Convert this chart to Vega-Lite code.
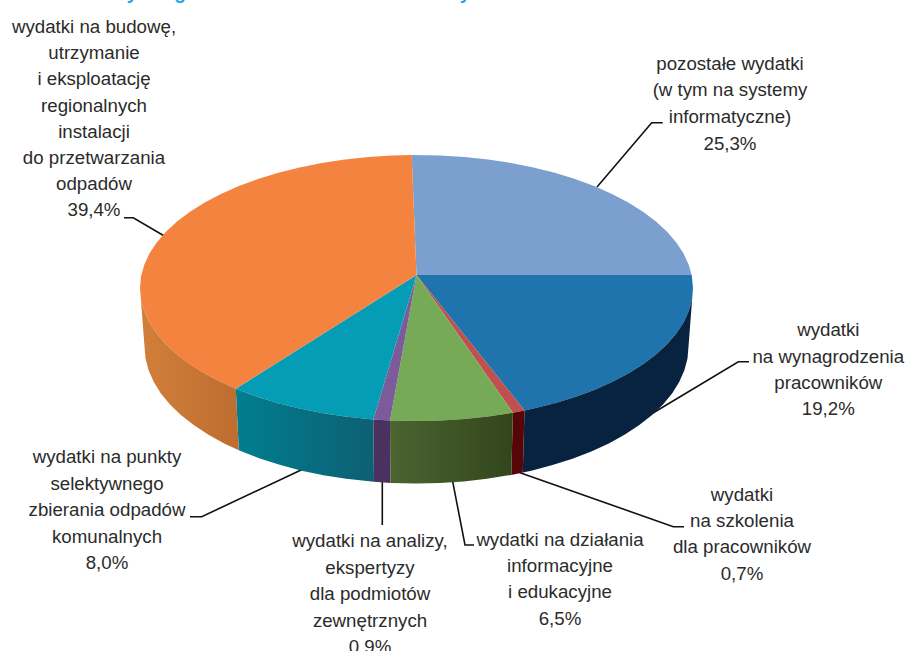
{
"$schema":"https://vega.github.io/schema/vega-lite/v6.json",
"width":906,"height":651,"padding":0,"autosize":{"type":"none"},"background":"white",
"config":{"view":{"stroke":null}},
"datasets":{
"shapes":[
{"i":1,"part":"pozostałe","x":416.5,"y":275},{"i":2,"part":"pozostałe","x":411.7,"y":155},{"i":3,"part":"pozostałe","x":464.5,"y":157},{"i":4,"part":"pozostałe","x":511.1,"y":163},{"i":5,"part":"pozostałe","x":554.8,"y":172.8},{"i":6,"part":"pozostałe","x":594.2,"y":186.1},{"i":7,"part":"pozostałe","x":628.3,"y":202.5},{"i":8,"part":"pozostałe","x":656,"y":221.5},{"i":9,"part":"pozostałe","x":676.3,"y":242.5},{"i":10,"part":"pozostałe","x":688.8,"y":264.9},{"i":11,"part":"pozostałe","x":691.7,"y":275},
{"i":2.5,"part":"pozostałe","x":440.6,"y":155.5},{"i":3.5,"part":"pozostałe","x":488.1,"y":159.5},{"i":4.5,"part":"pozostałe","x":533.4,"y":167.5},{"i":5.5,"part":"pozostałe","x":575.1,"y":179},{"i":6.5,"part":"pozostałe","x":612,"y":194},{"i":7.5,"part":"pozostałe","x":643,"y":211.7},{"i":8.5,"part":"pozostałe","x":667.1,"y":231.8},{"i":9.5,"part":"pozostałe","x":683.6,"y":253.6},
{"i":1,"part":"wynagrodzenia","x":416.5,"y":275},{"i":2,"part":"wynagrodzenia","x":691.7,"y":275},{"i":3,"part":"wynagrodzenia","x":693,"y":288},{"i":4,"part":"wynagrodzenia","x":688.8,"y":311.1},{"i":5,"part":"wynagrodzenia","x":676.3,"y":333.5},{"i":6,"part":"wynagrodzenia","x":656,"y":354.5},{"i":7,"part":"wynagrodzenia","x":628.3,"y":373.5},{"i":8,"part":"wynagrodzenia","x":594.2,"y":389.9},{"i":9,"part":"wynagrodzenia","x":554.8,"y":403.2},{"i":10,"part":"wynagrodzenia","x":524.5,"y":410.4},
{"i":3.5,"part":"wynagrodzenia","x":692,"y":299.6},{"i":4.5,"part":"wynagrodzenia","x":683.6,"y":322.4},{"i":5.5,"part":"wynagrodzenia","x":667.1,"y":344.2},{"i":6.5,"part":"wynagrodzenia","x":643,"y":364.3},{"i":7.5,"part":"wynagrodzenia","x":612,"y":382},{"i":8.5,"part":"wynagrodzenia","x":575.1,"y":397},{"i":9.5,"part":"wynagrodzenia","x":533.4,"y":408.5},
{"i":1,"part":"szkolenia","x":416.5,"y":275},{"i":2,"part":"szkolenia","x":524.5,"y":410.4},{"i":3,"part":"szkolenia","x":512.9,"y":412.7},
{"i":1,"part":"działania","x":416.5,"y":275},{"i":2,"part":"działania","x":512.9,"y":412.7},{"i":3,"part":"działania","x":488.1,"y":416.5},{"i":4,"part":"działania","x":464.5,"y":419},{"i":5,"part":"działania","x":440.6,"y":420.5},{"i":6,"part":"działania","x":416.5,"y":421},{"i":7,"part":"działania","x":390,"y":420.4},
{"i":1,"part":"analizy","x":416.5,"y":275},{"i":2,"part":"analizy","x":390,"y":420.4},{"i":3,"part":"analizy","x":373.3,"y":419.4},
{"i":1,"part":"punkty","x":416.5,"y":275},{"i":2,"part":"punkty","x":373.3,"y":419.4},{"i":3,"part":"punkty","x":344.9,"y":416.5},{"i":4,"part":"punkty","x":321.9,"y":413},{"i":5,"part":"punkty","x":278.3,"y":403.2},{"i":6,"part":"punkty","x":235.8,"y":388.7},
{"i":4.5,"part":"punkty","x":299.6,"y":408.5},{"i":5.5,"part":"punkty","x":257.9,"y":397},
{"i":1,"part":"instalacje","x":416.5,"y":275},{"i":2,"part":"instalacje","x":235.8,"y":388.7},{"i":3,"part":"instalacje","x":204.7,"y":373.5},{"i":4,"part":"instalacje","x":177,"y":354.5},{"i":5,"part":"instalacje","x":156.7,"y":333.5},{"i":6,"part":"instalacje","x":144.2,"y":311.1},{"i":7,"part":"instalacje","x":140,"y":288},{"i":8,"part":"instalacje","x":144.2,"y":264.9},{"i":9,"part":"instalacje","x":156.7,"y":242.5},{"i":10,"part":"instalacje","x":177,"y":221.5},{"i":11,"part":"instalacje","x":204.7,"y":202.5},{"i":12,"part":"instalacje","x":238.8,"y":186.1},{"i":13,"part":"instalacje","x":278.3,"y":172.8},{"i":14,"part":"instalacje","x":321.9,"y":163},{"i":15,"part":"instalacje","x":368.5,"y":157},{"i":16,"part":"instalacje","x":411.7,"y":155},
{"i":2.5,"part":"instalacje","x":221,"y":382},{"i":3.5,"part":"instalacje","x":190,"y":364.3},{"i":4.5,"part":"instalacje","x":165.9,"y":344.2},{"i":5.5,"part":"instalacje","x":149.4,"y":322.4},{"i":6.5,"part":"instalacje","x":141,"y":299.6},{"i":7.5,"part":"instalacje","x":141,"y":276.4},{"i":8.5,"part":"instalacje","x":149.4,"y":253.6},{"i":9.5,"part":"instalacje","x":165.9,"y":231.8},{"i":10.5,"part":"instalacje","x":190,"y":211.7},{"i":11.5,"part":"instalacje","x":221,"y":194},{"i":12.5,"part":"instalacje","x":257.9,"y":179},{"i":13.5,"part":"instalacje","x":299.6,"y":167.5},{"i":14.5,"part":"instalacje","x":344.9,"y":159.5},{"i":15.5,"part":"instalacje","x":392.4,"y":155.5},
{"i":1,"part":"bok wynagrodzenia","x":693,"y":288},{"i":2,"part":"bok wynagrodzenia","x":688.8,"y":311.1},{"i":3,"part":"bok wynagrodzenia","x":676.3,"y":333.5},{"i":4,"part":"bok wynagrodzenia","x":656,"y":354.5},{"i":5,"part":"bok wynagrodzenia","x":628.3,"y":373.5},{"i":6,"part":"bok wynagrodzenia","x":594.2,"y":389.9},{"i":7,"part":"bok wynagrodzenia","x":554.8,"y":403.2},{"i":8,"part":"bok wynagrodzenia","x":524.5,"y":410.4},{"i":9,"part":"bok wynagrodzenia","x":522.8,"y":472.6},{"i":10,"part":"bok wynagrodzenia","x":552.5,"y":465.1},{"i":11,"part":"bok wynagrodzenia","x":591.3,"y":451.4},{"i":12,"part":"bok wynagrodzenia","x":624.9,"y":434.6},{"i":13,"part":"bok wynagrodzenia","x":652.1,"y":415},{"i":14,"part":"bok wynagrodzenia","x":672.1,"y":393.4},{"i":15,"part":"bok wynagrodzenia","x":684.4,"y":370.3},{"i":16,"part":"bok wynagrodzenia","x":688.5,"y":346.5},
{"i":1.5,"part":"bok wynagrodzenia","x":692,"y":299.6},{"i":2.5,"part":"bok wynagrodzenia","x":683.6,"y":322.4},{"i":3.5,"part":"bok wynagrodzenia","x":667.1,"y":344.2},{"i":4.5,"part":"bok wynagrodzenia","x":643,"y":364.3},{"i":5.5,"part":"bok wynagrodzenia","x":612,"y":382},{"i":6.5,"part":"bok wynagrodzenia","x":575.1,"y":397},{"i":7.5,"part":"bok wynagrodzenia","x":533.4,"y":408.5},
{"i":9.5,"part":"bok wynagrodzenia","x":531.4,"y":470.7},{"i":10.5,"part":"bok wynagrodzenia","x":572.5,"y":458.7},{"i":11.5,"part":"bok wynagrodzenia","x":608.8,"y":443.4},{"i":12.5,"part":"bok wynagrodzenia","x":639.3,"y":425.1},{"i":13.5,"part":"bok wynagrodzenia","x":663,"y":404.4},{"i":14.5,"part":"bok wynagrodzenia","x":679.2,"y":382},{"i":15.5,"part":"bok wynagrodzenia","x":687.5,"y":358.4},
{"i":1,"part":"bok szkolenia","x":524.5,"y":410.4},{"i":2,"part":"bok szkolenia","x":512.9,"y":412.7},{"i":3,"part":"bok szkolenia","x":511.3,"y":474.9},{"i":4,"part":"bok szkolenia","x":522.8,"y":472.6},
{"i":1,"part":"bok analizy","x":390,"y":420.4},{"i":2,"part":"bok analizy","x":373.3,"y":419.4},{"i":3,"part":"bok analizy","x":374,"y":481.8},{"i":4,"part":"bok analizy","x":390.4,"y":482.9},
{"i":1,"part":"bok działania","x":512.9,"y":412.7},{"i":2,"part":"bok działania","x":488.1,"y":416.5},{"i":3,"part":"bok działania","x":464.5,"y":419},{"i":4,"part":"bok działania","x":440.6,"y":420.5},{"i":5,"part":"bok działania","x":416.5,"y":421},{"i":6,"part":"bok działania","x":390,"y":420.4},{"i":7,"part":"bok działania","x":390.4,"y":482.9},{"i":8,"part":"bok działania","x":416.5,"y":483.5},{"i":9,"part":"bok działania","x":440.2,"y":483},{"i":10,"part":"bok działania","x":463.7,"y":481.4},{"i":11,"part":"bok działania","x":486.9,"y":478.8},{"i":12,"part":"bok działania","x":511.3,"y":474.9},
{"i":1,"part":"bok punkty","x":373.3,"y":419.4},{"i":2,"part":"bok punkty","x":344.9,"y":416.5},{"i":3,"part":"bok punkty","x":321.9,"y":413},{"i":4,"part":"bok punkty","x":278.3,"y":403.2},{"i":5,"part":"bok punkty","x":235.8,"y":388.7},{"i":6,"part":"bok punkty","x":238.8,"y":450.2},{"i":7,"part":"bok punkty","x":280.5,"y":465.1},{"i":8,"part":"bok punkty","x":323.5,"y":475.2},{"i":9,"part":"bok punkty","x":346.1,"y":478.8},{"i":10,"part":"bok punkty","x":374,"y":481.8},
{"i":3.5,"part":"bok punkty","x":299.6,"y":408.5},{"i":4.5,"part":"bok punkty","x":257.9,"y":397},{"i":6.5,"part":"bok punkty","x":260.5,"y":458.7},{"i":7.5,"part":"bok punkty","x":301.6,"y":470.7},
{"i":1,"part":"bok instalacje","x":235.8,"y":388.7},{"i":2,"part":"bok instalacje","x":204.7,"y":373.5},{"i":3,"part":"bok instalacje","x":177,"y":354.5},{"i":4,"part":"bok instalacje","x":156.7,"y":333.5},{"i":5,"part":"bok instalacje","x":144.2,"y":311.1},{"i":6,"part":"bok instalacje","x":140,"y":288},{"i":7,"part":"bok instalacje","x":144.5,"y":346.5},{"i":8,"part":"bok instalacje","x":148.6,"y":370.3},{"i":9,"part":"bok instalacje","x":160.9,"y":393.4},{"i":10,"part":"bok instalacje","x":180.9,"y":415},{"i":11,"part":"bok instalacje","x":208.1,"y":434.6},{"i":12,"part":"bok instalacje","x":238.8,"y":450.2},
{"i":1.5,"part":"bok instalacje","x":221,"y":382},{"i":2.5,"part":"bok instalacje","x":190,"y":364.3},{"i":3.5,"part":"bok instalacje","x":165.9,"y":344.2},{"i":4.5,"part":"bok instalacje","x":149.4,"y":322.4},{"i":5.5,"part":"bok instalacje","x":141,"y":299.6},{"i":7.5,"part":"bok instalacje","x":145.5,"y":358.4},{"i":8.5,"part":"bok instalacje","x":153.8,"y":382},{"i":9.5,"part":"bok instalacje","x":170,"y":404.4},{"i":10.5,"part":"bok instalacje","x":193.7,"y":425.1},{"i":11.5,"part":"bok instalacje","x":224.2,"y":443.4}
],
"leaders":[
{"i":1,"id":"a","x":124,"y":217.7},{"i":2,"id":"a","x":133.3,"y":217.7},{"i":3,"id":"a","x":164.3,"y":236},
{"i":1,"id":"b","x":597,"y":187},{"i":2,"id":"b","x":651.7,"y":122.7},{"i":3,"id":"b","x":662.7,"y":122.7},
{"i":1,"id":"c","x":653,"y":413},{"i":2,"id":"c","x":738.3,"y":361.7},{"i":3,"id":"c","x":749,"y":361.7},
{"i":1,"id":"d","x":518,"y":472},{"i":2,"id":"d","x":673.3,"y":526.7},{"i":3,"id":"d","x":684,"y":526.7},
{"i":1,"id":"e","x":452.7,"y":481.7},{"i":2,"id":"e","x":465,"y":545},{"i":3,"id":"e","x":474,"y":545},
{"i":1,"id":"f","x":382.3,"y":481.7},{"i":2,"id":"f","x":382.3,"y":525},
{"i":1,"id":"g","x":302.7,"y":469.3},{"i":2,"id":"g","x":201.7,"y":516.7},{"i":3,"id":"g","x":190,"y":516.7}
],
"labels":[
{"x":94,"y":33,"t":"wydatki na budowę,"},{"x":94,"y":59.2,"t":"utrzymanie"},{"x":94,"y":85.4,"t":"i eksploatację"},{"x":94,"y":111.6,"t":"regionalnych"},{"x":94,"y":137.8,"t":"instalacji"},{"x":94,"y":164,"t":"do przetwarzania"},{"x":94,"y":190.2,"t":"odpadów"},{"x":94,"y":216.4,"t":"39,4%"},
{"x":730,"y":69.5,"t":"pozostałe wydatki"},{"x":730,"y":96,"t":"(w tym na systemy"},{"x":730,"y":122.7,"t":"informatyczne)"},{"x":730,"y":150,"t":"25,3%"},
{"x":828.3,"y":336,"t":"wydatki"},{"x":828.3,"y":362.7,"t":"na wynagrodzenia"},{"x":828.3,"y":388.7,"t":"pracowników"},{"x":828.3,"y":415,"t":"19,2%"},
{"x":742,"y":500.7,"t":"wydatki"},{"x":742,"y":526.7,"t":"na szkolenia"},{"x":742,"y":553,"t":"dla pracowników"},{"x":742,"y":580,"t":"0,7%"},
{"x":560,"y":546,"t":"wydatki na działania"},{"x":560,"y":571.7,"t":"informacyjne"},{"x":560,"y":597.7,"t":"i edukacyjne"},{"x":560,"y":625,"t":"6,5%"},
{"x":370,"y":547,"t":"wydatki na analizy,"},{"x":370,"y":573.5,"t":"ekspertyzy"},{"x":370,"y":600,"t":"dla podmiotów"},{"x":370,"y":626.5,"t":"zewnętrznych"},{"x":370,"y":653,"t":"0,9%"},
{"x":107,"y":463,"t":"wydatki na punkty"},{"x":107,"y":489.5,"t":"selektywnego"},{"x":107,"y":516,"t":"zbierania odpadów"},{"x":107,"y":542.5,"t":"komunalnych"},{"x":107,"y":569,"t":"8,0%"}
],
"titleBits":[{"x":132,"y":-1.5,"t":"y"},{"x":180,"y":-1.5,"t":"g"},{"x":465,"y":-1.5,"t":"y"}]
},
"layer":[
{"data":{"name":"leaders"},"mark":{"type":"line","color":"#111111","strokeWidth":1.6},
 "encoding":{"x":{"field":"x","type":"quantitative","scale":{"domain":[0,906],"nice":false,"zero":false},"axis":null},
 "y":{"field":"y","type":"quantitative","scale":{"domain":[0,651],"reverse":true,"nice":false,"zero":false},"axis":null},
 "detail":{"field":"id"},"order":{"field":"i","type":"quantitative"}}},
{"data":{"name":"shapes"},"transform":[{"filter":"indexof(['bok punkty','bok instalacje','bok działania'],datum.part)<0"}],
 "mark":{"type":"line","filled":true,"strokeWidth":0},
 "encoding":{"x":{"field":"x","type":"quantitative"},"y":{"field":"y","type":"quantitative"},"order":{"field":"i","type":"quantitative"},
 "color":{"field":"part","type":"nominal","legend":null,"scale":{"domain":["pozostałe","wynagrodzenia","szkolenia","działania","analizy","punkty","instalacje","bok wynagrodzenia","bok szkolenia","bok analizy"],"range":["#7ba0cf","#1f74ae","#c0504d","#77aa56","#7c5b9b","#059db6","#f58340","#07233f","#560606","#4b3160"]}}}},
{"data":{"name":"shapes"},"transform":[{"filter":"datum.part==='bok punkty'"}],
 "mark":{"type":"line","stroke":null,"fill":{"gradient":"linear","x1":0,"y1":0,"x2":1,"y2":0,"stops":[{"offset":0,"color":"#007e90"},{"offset":1,"color":"#0d6072"}]}},
 "encoding":{"x":{"field":"x","type":"quantitative"},"y":{"field":"y","type":"quantitative"},"order":{"field":"i","type":"quantitative"}}},
{"data":{"name":"shapes"},"transform":[{"filter":"datum.part==='bok instalacje'"}],
 "mark":{"type":"line","stroke":null,"fill":{"gradient":"linear","x1":0,"y1":0,"x2":1,"y2":0,"stops":[{"offset":0,"color":"#d27f3b"},{"offset":1,"color":"#bd6d2f"}]}},
 "encoding":{"x":{"field":"x","type":"quantitative"},"y":{"field":"y","type":"quantitative"},"order":{"field":"i","type":"quantitative"}}},
{"data":{"name":"shapes"},"transform":[{"filter":"datum.part==='bok działania'"}],
 "mark":{"type":"line","stroke":null,"fill":{"gradient":"linear","x1":0,"y1":0,"x2":1,"y2":0,"stops":[{"offset":0,"color":"#4a6531"},{"offset":1,"color":"#32461c"}]}},
 "encoding":{"x":{"field":"x","type":"quantitative"},"y":{"field":"y","type":"quantitative"},"order":{"field":"i","type":"quantitative"}}},
{"data":{"name":"labels"},"mark":{"type":"text","font":"Liberation Sans","fontSize":18.7,"align":"center","baseline":"alphabetic","color":"#2b2b2b"},
 "encoding":{"x":{"field":"x","type":"quantitative"},"y":{"field":"y","type":"quantitative"},"text":{"field":"t"}}},
{"data":{"name":"titleBits"},"mark":{"type":"text","font":"Liberation Sans","fontWeight":"bold","fontSize":19,"align":"center","baseline":"alphabetic","color":"#1ea5e0"},
 "encoding":{"x":{"field":"x","type":"quantitative"},"y":{"field":"y","type":"quantitative"},"text":{"field":"t"}}}
]
}
